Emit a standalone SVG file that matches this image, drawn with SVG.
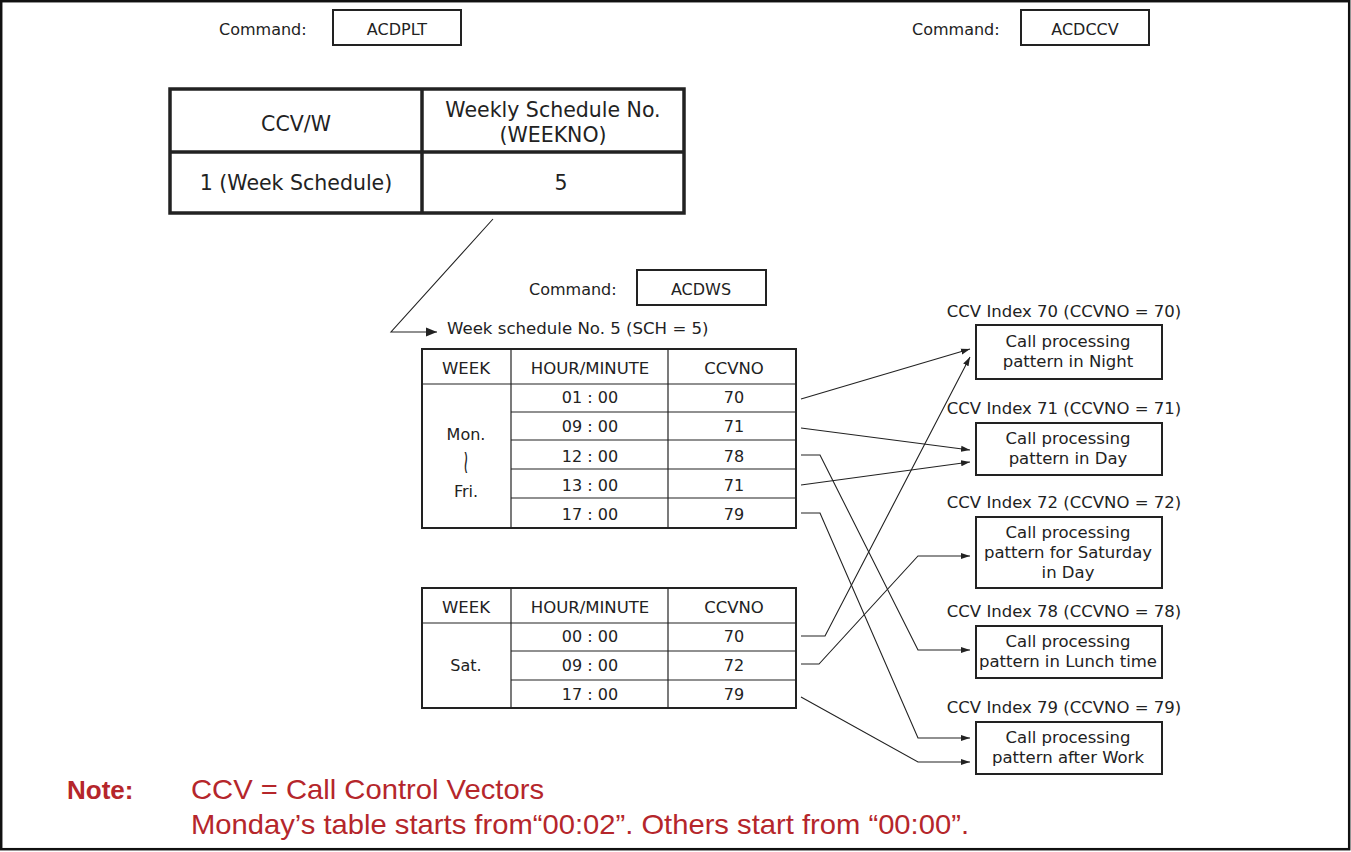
<svg xmlns="http://www.w3.org/2000/svg" width="1351" height="852" viewBox="0 0 1351 852">
<style>
text{font-family:"DejaVu Sans","Liberation Sans",sans-serif;fill:#222;}
.t16{font-size:16px;}
.t17{font-size:16.5px;}
.t20{font-size:20.5px;}
.c{text-anchor:middle;}
.box{fill:#fff;stroke:#222;stroke-width:2;}
.thick{fill:none;stroke:#222;stroke-width:3.5;}
.thin{fill:none;stroke:#222;stroke-width:1.2;}
.con{fill:none;stroke:#222;stroke-width:1.1;}
.note{font-family:"Liberation Sans",Arial,sans-serif;fill:#b5262b;font-size:28px;}
</style>
<defs>
<marker id="ah" markerWidth="10" markerHeight="8" refX="9" refY="4" orient="auto" markerUnits="userSpaceOnUse">
<path d="M0,1 L9,4 L0,7 Z" fill="#222"/>
</marker>
<marker id="ahb" markerWidth="12" markerHeight="10" refX="11" refY="5" orient="auto" markerUnits="userSpaceOnUse">
<path d="M0,0.5 L11,5 L0,9.5 Z" fill="#222"/>
</marker>
</defs>
<rect x="1.2" y="1.2" width="1348" height="848" fill="#fff" stroke="#111" stroke-width="2.5"/>

<g id="cmd-acdplt">
<text class="t16" x="219" y="35">Command:</text>
<rect class="box" x="333" y="10" width="128" height="35"/>
<text class="t16 c" x="397" y="35">ACDPLT</text>
</g>
<g id="cmd-acdccv">
<text class="t16" x="912" y="35">Command:</text>
<rect class="box" x="1021" y="10" width="128" height="35"/>
<text class="t16 c" x="1085" y="35">ACDCCV</text>
</g>

<g id="acdplt-table">
<rect class="thick" x="170" y="89" width="514" height="124"/>
<line class="thick" x1="422" y1="89" x2="422" y2="213"/>
<line class="thick" x1="170" y1="152" x2="684" y2="152"/>
<text class="t20 c" x="296" y="131">CCV/W</text>
<text class="t20 c" x="553" y="117">Weekly Schedule No.</text>
<text class="t20 c" x="553" y="142">(WEEKNO)</text>
<text class="t20 c" x="296" y="190">1 (Week Schedule)</text>
<text class="t20 c" x="561" y="190">5</text>
</g>

<g id="cmd-acdws">
<text class="t16" x="529" y="295">Command:</text>
<rect class="box" x="637" y="270" width="129" height="35"/>
<text class="t16 c" x="701" y="295">ACDWS</text>
</g>

<g id="week-title">
<text class="t16" x="447" y="334" style="font-size:16.6px">Week schedule No. 5 (SCH = 5)</text>
</g>

<g id="table-monfri">
<rect class="box" x="422" y="349" width="374" height="179"/>
<line class="thin" x1="511" y1="349" x2="511" y2="528"/>
<line class="thin" x1="668" y1="349" x2="668" y2="528"/>
<line class="thin" x1="422" y1="384" x2="796" y2="384"/>
<line class="thin" x1="511" y1="412" x2="796" y2="412"/>
<line class="thin" x1="511" y1="440" x2="796" y2="440"/>
<line class="thin" x1="511" y1="469" x2="796" y2="469"/>
<line class="thin" x1="511" y1="498" x2="796" y2="498"/>
<text class="t17 c" x="466" y="374">WEEK</text>
<text class="t17 c" x="590" y="374">HOUR/MINUTE</text>
<text class="t17 c" x="734" y="374">CCVNO</text>
<text class="t16 c" x="466" y="440">Mon.</text>
<text class="c" x="0" y="0" transform="translate(466,473) scale(1.1,2.4)" style="font-size:14px">≀</text>
<text class="t16 c" x="466" y="497">Fri.</text>
<text class="t16 c" x="590" y="403">01 : 00</text>
<text class="t16 c" x="590" y="432">09 : 00</text>
<text class="t16 c" x="590" y="462">12 : 00</text>
<text class="t16 c" x="590" y="491">13 : 00</text>
<text class="t16 c" x="590" y="520">17 : 00</text>
<text class="t16 c" x="734" y="403">70</text>
<text class="t16 c" x="734" y="432">71</text>
<text class="t16 c" x="734" y="462">78</text>
<text class="t16 c" x="734" y="491">71</text>
<text class="t16 c" x="734" y="520">79</text>
</g>

<g id="table-sat">
<rect class="box" x="422" y="588" width="374" height="120"/>
<line class="thin" x1="511" y1="588" x2="511" y2="708"/>
<line class="thin" x1="668" y1="588" x2="668" y2="708"/>
<line class="thin" x1="422" y1="623" x2="796" y2="623"/>
<line class="thin" x1="511" y1="651" x2="796" y2="651"/>
<line class="thin" x1="511" y1="680" x2="796" y2="680"/>
<text class="t17 c" x="466" y="613">WEEK</text>
<text class="t17 c" x="590" y="613">HOUR/MINUTE</text>
<text class="t17 c" x="734" y="613">CCVNO</text>
<text class="t16 c" x="466" y="671">Sat.</text>
<text class="t16 c" x="590" y="642">00 : 00</text>
<text class="t16 c" x="590" y="671">09 : 00</text>
<text class="t16 c" x="590" y="700">17 : 00</text>
<text class="t16 c" x="734" y="642">70</text>
<text class="t16 c" x="734" y="671">72</text>
<text class="t16 c" x="734" y="700">79</text>
</g>

<g id="ccv70">
<text class="t17 c" x="1064" y="317">CCV Index 70 (CCVNO = 70)</text>
<rect class="box" x="976" y="325" width="186" height="54"/>
<text class="t17 c" x="1068" y="347">Call processing</text>
<text class="t17 c" x="1068" y="367">pattern in Night</text>
</g>
<g id="ccv71">
<text class="t17 c" x="1064" y="414">CCV Index 71 (CCVNO = 71)</text>
<rect class="box" x="976" y="423" width="186" height="52"/>
<text class="t17 c" x="1068" y="444">Call processing</text>
<text class="t17 c" x="1068" y="464">pattern in Day</text>
</g>
<g id="ccv72">
<text class="t17 c" x="1064" y="508">CCV Index 72 (CCVNO = 72)</text>
<rect class="box" x="976" y="517" width="186" height="71"/>
<text class="t17 c" x="1068" y="538">Call processing</text>
<text class="t17 c" x="1068" y="558">pattern for Saturday</text>
<text class="t17 c" x="1068" y="578">in Day</text>
</g>
<g id="ccv78">
<text class="t17 c" x="1064" y="617">CCV Index 78 (CCVNO = 78)</text>
<rect class="box" x="976" y="626" width="186" height="52"/>
<text class="t17 c" x="1068" y="647">Call processing</text>
<text class="t17 c" x="1068" y="667">pattern in Lunch time</text>
</g>
<g id="ccv79">
<text class="t17 c" x="1064" y="713">CCV Index 79 (CCVNO = 79)</text>
<rect class="box" x="976" y="722" width="186" height="52"/>
<text class="t17 c" x="1068" y="743">Call processing</text>
<text class="t17 c" x="1068" y="763">pattern after Work</text>
</g>

<g id="connectors">
<polyline class="con" points="493,219 391,332 437,332" marker-end="url(#ahb)"/>
<line class="con" x1="801" y1="399" x2="970" y2="349" marker-end="url(#ah)"/>
<polyline class="con" points="801,636 825,636 970,357" marker-end="url(#ah)"/>
<line class="con" x1="801" y1="428" x2="970" y2="450" marker-end="url(#ah)"/>
<line class="con" x1="801" y1="485" x2="970" y2="462" marker-end="url(#ah)"/>
<polyline class="con" points="801,455 820,455 918,650 970,650" marker-end="url(#ah)"/>
<polyline class="con" points="801,513 820,513 918,738 970,738" marker-end="url(#ah)"/>
<polyline class="con" points="801,664 819,664 918,556 970,556" marker-end="url(#ah)"/>
<polyline class="con" points="801,697 918,762 970,762" marker-end="url(#ah)"/>
</g>

<g id="note">
<text class="note" x="67" y="799" style="font-weight:bold;font-size:26px">Note:</text>
<text class="note" x="191" y="799" textLength="353" lengthAdjust="spacingAndGlyphs">CCV = Call Control Vectors</text>
<text class="note" x="191" y="834" textLength="778" lengthAdjust="spacingAndGlyphs">Monday’s table starts from“00:02”. Others start from “00:00”.</text>
</g>
</svg>
